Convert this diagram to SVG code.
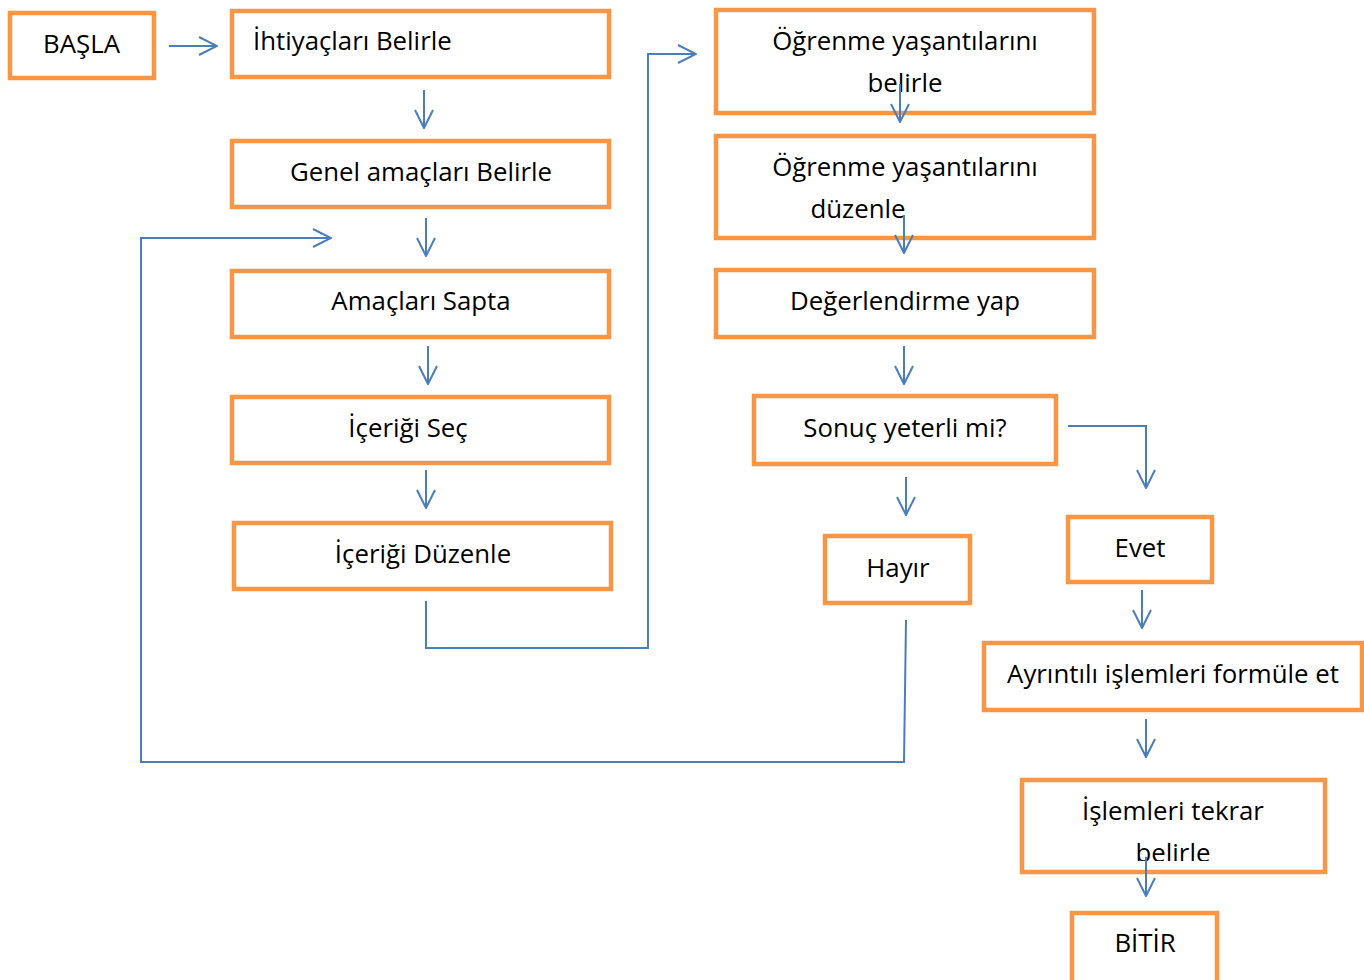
<svg xmlns="http://www.w3.org/2000/svg" width="1364" height="980" viewBox="0 0 1364 980">
<style>
.box{fill:#fff;stroke:#F79646;stroke-width:4.5}
.t{font-family:"Open Sans","Liberation Sans",sans-serif;font-size:25.8px;fill:#000;text-anchor:middle}
.c{fill:none;stroke:#4A7EBB;stroke-width:2}
</style>
<defs>
<marker id="ah" viewBox="0 0 20 20" refX="19" refY="10" markerWidth="20" markerHeight="20" markerUnits="userSpaceOnUse" orient="auto">
<path d="M1,1 L19,10 L1,19" fill="none" stroke="#4A7EBB" stroke-width="2"/>
</marker>
<clipPath id="clipI"><rect x="1022" y="780" width="303" height="81"/></clipPath>
</defs>
<rect width="1364" height="980" fill="#fff"/>
<g id="n-basla"><rect class="box" x="10" y="13" width="144" height="65"/><text class="t" x="81.5" y="53">BAŞLA</text></g>
<g id="n-ihtiyac"><rect class="box" x="232" y="11" width="377" height="66"/><text class="t" x="253" y="50" style="text-anchor:start">İhtiyaçları Belirle</text></g>
<g id="n-genel"><rect class="box" x="232" y="141" width="377" height="66"/><text class="t" x="421" y="181">Genel amaçları Belirle</text></g>
<g id="n-amac"><rect class="box" x="232" y="271" width="377" height="66"/><text class="t" x="421" y="310">Amaçları Sapta</text></g>
<g id="n-icsec"><rect class="box" x="232" y="397" width="377" height="66"/><text class="t" x="408" y="437">İçeriği Seç</text></g>
<g id="n-icduz"><rect class="box" x="234" y="523" width="377" height="66"/><text class="t" x="423" y="563">İçeriği Düzenle</text></g>
<g id="n-ogr1"><rect class="box" x="716" y="10" width="378" height="103"/><text class="t" x="905" y="50">Öğrenme yaşantılarını</text><text class="t" x="905" y="92">belirle</text></g>
<g id="n-ogr2"><rect class="box" x="716" y="136" width="378" height="102"/><text class="t" x="905" y="176">Öğrenme yaşantılarını</text><text class="t" x="858" y="218">düzenle</text></g>
<g id="n-deg"><rect class="box" x="716" y="270" width="378" height="67"/><text class="t" x="905" y="310">Değerlendirme yap</text></g>
<g id="n-sonuc"><rect class="box" x="754" y="396" width="302" height="68"/><text class="t" x="905" y="437">Sonuç yeterli mi?</text></g>
<g id="n-hayir"><rect class="box" x="825" y="536" width="145" height="67"/><text class="t" x="898" y="577">Hayır</text></g>
<g id="n-evet"><rect class="box" x="1068" y="517" width="144" height="65"/><text class="t" x="1140" y="557">Evet</text></g>
<g id="n-ayr"><rect class="box" x="984" y="643" width="378" height="67"/><text class="t" x="1173" y="683">Ayrıntılı işlemleri formüle et</text></g>
<g id="n-isl"><rect class="box" x="1022" y="780" width="303" height="92"/><text class="t" x="1173" y="820">İşlemleri tekrar</text><text class="t" x="1173" y="862" clip-path="url(#clipI)">belirle</text></g>
<g id="n-bitir"><rect class="box" x="1072" y="913" width="145" height="70"/><text class="t" x="1145" y="952">BİTİR</text></g>
<g id="connectors">
<path class="c" d="M169,46 H217" marker-end="url(#ah)"/>
<path class="c" d="M424,90 V128" marker-end="url(#ah)"/>
<path class="c" d="M426,218 V256" marker-end="url(#ah)"/>
<path class="c" d="M428,346 V384" marker-end="url(#ah)"/>
<path class="c" d="M426,470 V508" marker-end="url(#ah)"/>
<path class="c" d="M426,601 V648 H648 V54 H696" marker-end="url(#ah)"/>
<path class="c" d="M906,620 L904,762 H141 V238 H331" marker-end="url(#ah)"/>
<path class="c" d="M900,84 V122" marker-end="url(#ah)"/>
<path class="c" d="M904,215 V253" marker-end="url(#ah)"/>
<path class="c" d="M904,346 V384" marker-end="url(#ah)"/>
<path class="c" d="M906,477 V515" marker-end="url(#ah)"/>
<path class="c" d="M1068,426 H1146 V488" marker-end="url(#ah)"/>
<path class="c" d="M1142,590 V628" marker-end="url(#ah)"/>
<path class="c" d="M1146,719 V757" marker-end="url(#ah)"/>
<path class="c" d="M1146,857 V896" marker-end="url(#ah)"/>
</g>
</svg>
